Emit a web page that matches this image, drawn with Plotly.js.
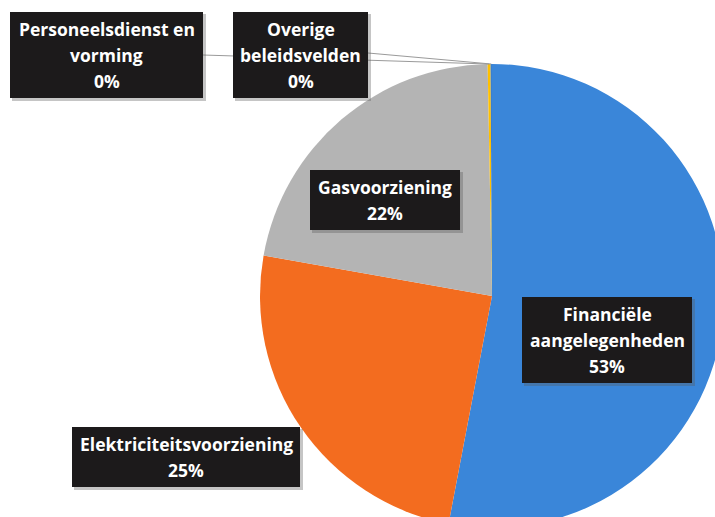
<!DOCTYPE html>
<html>
<head>
<meta charset="utf-8">
<script src="https://cdn.plot.ly/plotly-3.0.1.min.js"></script>
<style>
  html, body { margin: 0; padding: 0; width: 715px; height: 517px; overflow: hidden; background: #ffffff; }
  #chart { width: 730px; height: 540px; }
</style>
</head>
<body>
<div id="chart"></div>
<script>
// Share of spending per policy area
const categories = [
  'Financiële aangelegenheden',
  'Elektriciteitsvoorziening',
  'Gasvoorziening',
  'Personeelsdienst en vorming',
  'Overige beleidsvelden'
];
const values = [53.0, 24.8, 21.9, 0.2, 0.1];
const sliceColors = ['#3a86d9', '#f36c1f', '#b4b4b4', '#ffc000', '#3a7fd0'];
// label text broken over lines as shown in the boxes
const labelLines = [
  ['Financiële', 'aangelegenheden'],
  ['Elektriciteitsvoorziening'],
  ['Gasvoorziening'],
  ['Personeelsdienst en', 'vorming'],
  ['Overige', 'beleidsvelden']
];
// label boxes in pixels: [left, top, width, height]
const labelBoxes = [
  [522, 297, 170, 86],
  [72, 427, 228, 60],
  [310, 170, 150, 60],
  [10, 12, 193, 86],
  [233, 12, 135, 86]
];

const W = 730, H = 540;
const cx = 492, cy = 296, R = 232;
const px = x => x / W;
const py = y => 1 - y / H;

const total = values.reduce((a, b) => a + b, 0);
const pctText = values.map(v => Math.round(v / total * 100) + '%');

// point on the rim at the middle of slice i (clockwise from 12 o'clock)
function rimPoint(i) {
  let before = 0;
  for (let k = 0; k < i; k++) before += values[k];
  const frac = (before + values[i] / 2) / total;
  const a = frac * 2 * Math.PI;
  return [cx + R * Math.sin(a), cy - R * Math.cos(a)];
}

const shapes = [];
const annotations = [];

// leader lines for the two small slices
const leaders = [[3, 203, 55], [4, 368, 53]];
leaders.forEach(([i, x0, y0]) => {
  const [x1, y1] = rimPoint(i);
  shapes.push({
    type: 'line', xref: 'paper', yref: 'paper',
    x0: px(x0), y0: py(y0), x1: px(x1), y1: py(y1),
    line: { color: '#9a9a9a', width: 1 }, layer: 'above'
  });
});

const lineGap = 26;
labelBoxes.forEach((b, i) => {
  const [l, t, w, h] = b;
  // soft shadow
  shapes.push({
    type: 'rect', xref: 'paper', yref: 'paper',
    x0: px(l + 2), x1: px(l + w + 3), y0: py(t + 2), y1: py(t + h + 3),
    fillcolor: 'rgba(90,90,90,0.35)', line: { width: 0 }, layer: 'above'
  });
  shapes.push({
    type: 'rect', xref: 'paper', yref: 'paper',
    x0: px(l), x1: px(l + w), y0: py(t), y1: py(t + h),
    fillcolor: '#1c1a1b', line: { width: 0 }, layer: 'above'
  });
  const lines = labelLines[i].concat([pctText[i]]);
  const n = lines.length;
  lines.forEach((txt, j) => {
    const yc = t + h / 2 + (j - (n - 1) / 2) * lineGap;
    annotations.push({
      xref: 'paper', yref: 'paper',
      x: px(l + w / 2), y: py(yc),
      xanchor: 'center', yanchor: 'middle',
      text: txt, showarrow: false,
      font: { family: '"Open Sans", Lato, sans-serif', size: 17.5, color: '#ffffff', weight: 700 }
    });
  });
});

const trace = {
  type: 'pie',
  labels: categories,
  values: values,
  sort: false,
  direction: 'clockwise',
  rotation: 0,
  marker: { colors: sliceColors, line: { width: 0 } },
  textinfo: 'none',
  hoverinfo: 'skip',
  domain: { x: [px(cx - R), px(cx + R)], y: [py(cy + R), py(cy - R)] }
};

Plotly.newPlot('chart', [trace], {
  width: W, height: H,
  margin: { l: 0, r: 0, t: 0, b: 0 },
  paper_bgcolor: '#ffffff',
  showlegend: false,
  shapes: shapes,
  annotations: annotations
}, { displayModeBar: false, staticPlot: true });
</script>
</body>
</html>
